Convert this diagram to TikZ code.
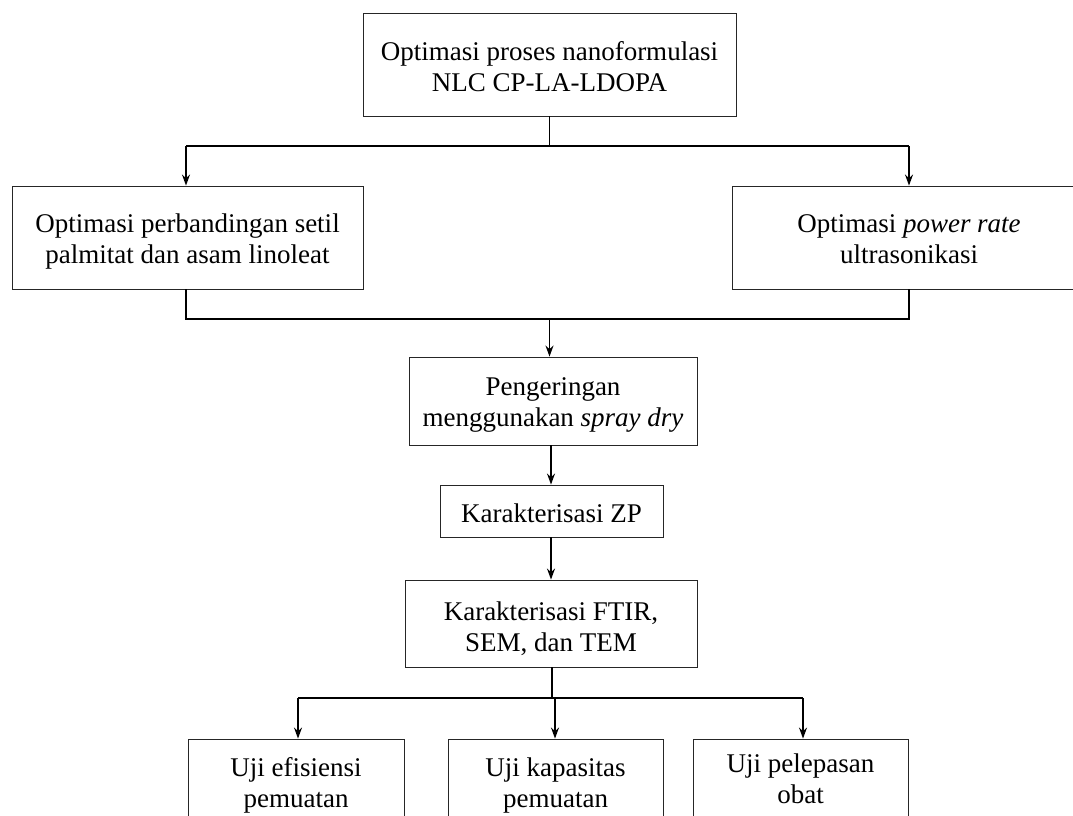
\documentclass[tikz,border=0pt]{standalone}
\usepackage{fontspec}
\setmainfont{Liberation Serif}
\usetikzlibrary{arrows.meta}
\newcommand{\tstr}[1]{\rule{0pt}{#1pt}}
\newcommand{\bstr}[1]{\rule[-#1pt]{0pt}{#1pt}}
\begin{document}
\begin{tikzpicture}[x=1pt,y=-1pt,
  box/.style={draw=black!85,line width=0.9pt,align=center,inner sep=0pt,font=\fontsize{27}{31}\selectfont},
  conn/.style={line width=1.3pt},
  arr/.style={conn,-{Stealth[length=11pt,width=8pt]}}]
\useasboundingbox (0,0) rectangle (1073,816);
\fill[white] (0,0) rectangle (1073,816);
\node[box,minimum width=373,minimum height=103] (top) at (549.5,64.5) {\tstr{28}Optimasi proses nanoformulasi\\NLC CP-LA-LDOPA\bstr{6}};
\node[box,minimum width=351,minimum height=103] (left) at (187.5,237.5) {\tstr{26}Optimasi perbandingan setil\\palmitat dan asam linoleat\bstr{6}};
\node[box,minimum width=354,minimum height=103] (right) at (909,237.5) {\tstr{26}Optimasi \textit{power rate}\\ultrasonikasi\bstr{6}};
\node[box,minimum width=288,minimum height=88] (peng) at (553,401) {\tstr{25}Pengeringan\\menggunakan \textit{spray dry}\bstr{6}};
\node[box,minimum width=223,minimum height=52] (zp) at (551.5,511) {\tstr{28}Karakterisasi ZP\bstr{6}};
\node[box,minimum width=292,minimum height=87] (ftir) at (551,623.5) {\tstr{30}Karakterisasi FTIR,\\SEM, dan TEM\bstr{6}};
\node[box,minimum width=216,minimum height=90] (b1) at (296,784) {\tstr{21}Uji efisiensi\\pemuatan\bstr{6}};
\node[box,minimum width=215,minimum height=90] (b2) at (555.5,784) {\tstr{21}Uji kapasitas\\pemuatan\bstr{6}};
\node[box,minimum width=215,minimum height=90] (b3) at (800.5,784) {\tstr{19}Uji pelepasan\\obat\bstr{12}};
% top split
\coordinate (s1) at (549.5,146);
\coordinate (sl) at (186,146);
\coordinate (sr) at (909,146);
\draw[conn] (top.south) -- (s1);
\draw[conn] (sl) -- (sr);
\draw[arr] (sl) -- (sl |- left.north);
\draw[arr] (sr) -- (sr |- right.north);
% join
\coordinate (jl) at (186,319);
\coordinate (jr) at (909,319);
\coordinate (jm) at (549.5,319);
\draw[conn] (left.south -| jl) -- (jl) -- (jr) -- (right.south -| jr);
\draw[arr] (jm) -- (jm |- peng.north);
\draw[arr] (peng.south -| 551,0) -- (zp.north -| 551,0);
\draw[arr] (zp.south -| 551,0) -- (ftir.north -| 551,0);
% bottom split
\coordinate (f1) at (552,698);
\coordinate (fl) at (298,698);
\coordinate (fr) at (803,698);
\draw[conn] (ftir.south -| f1) -- (f1);
\draw[conn] (fl) -- (fr);
\draw[arr] (fl) -- (fl |- b1.north);
\draw[arr] (f1 -| 555,0) -- (b2.north -| 555,0);
\draw[arr] (fr) -- (fr |- b3.north);
\end{tikzpicture}
\end{document}
